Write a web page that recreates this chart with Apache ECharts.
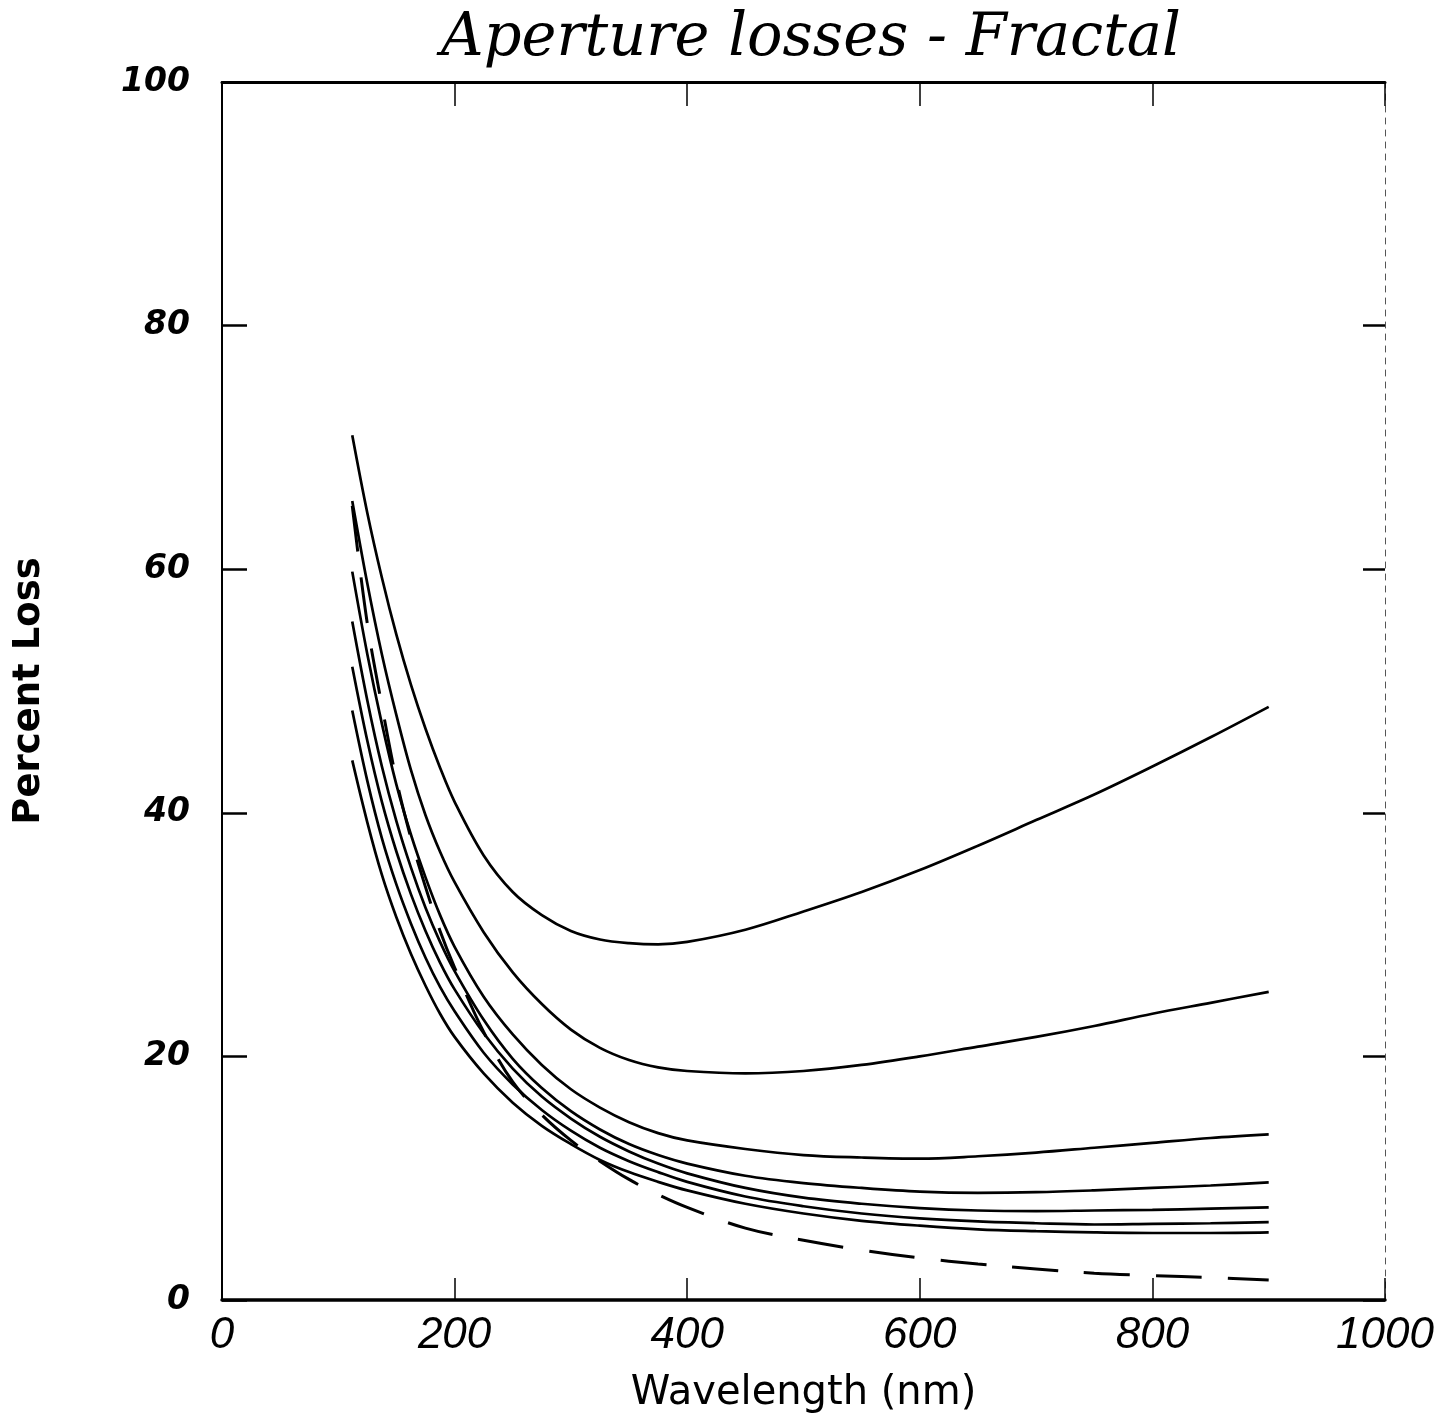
<!DOCTYPE html>
<html>
<head>
<meta charset="utf-8">
<script src="https://cdn.jsdelivr.net/npm/echarts@6/dist/echarts.min.js"></script>
<style>
  html, body { margin: 0; padding: 0; background: #fff; }
  #chart { width: 1443px; height: 1415px; }
</style>
</head>
<body>
<div id="chart"></div>
<script>
// wavelength grid (nm) shared by all curves
const wavelengths = [112, 125, 137.5, 150, 162.5, 175, 187.5, 200, 225, 250, 275, 300, 325, 350, 375, 400, 450, 500, 550, 600, 650, 700, 750, 800, 850, 900];

// solid curves, top to bottom (percent loss)
const loss1 = [71.0, 64.6, 59.3, 54.6, 50.5, 46.9, 43.7, 40.9, 36.5, 33.5, 31.6, 30.3, 29.6, 29.3, 29.2, 29.4, 30.4, 31.9, 33.5, 35.3, 37.3, 39.4, 41.5, 43.8, 46.2, 48.7];
const loss2 = [65.6, 58.8, 53.0, 48.0, 43.5, 39.8, 36.8, 34.3, 30.2, 26.9, 24.3, 22.2, 20.7, 19.7, 19.1, 18.8, 18.6, 18.8, 19.3, 20.0, 20.8, 21.6, 22.5, 23.5, 24.4, 25.3];
const loss3 = [59.8, 53.0, 47.3, 42.3, 38.2, 34.7, 31.6, 29.0, 24.9, 21.8, 19.3, 17.3, 15.8, 14.6, 13.7, 13.1, 12.4, 11.9, 11.7, 11.6, 11.8, 12.1, 12.5, 12.9, 13.3, 13.6];
const loss4 = [55.7, 49.2, 43.8, 39.3, 35.5, 32.2, 29.4, 27.0, 23.0, 19.8, 17.4, 15.5, 14.0, 12.8, 11.9, 11.2, 10.2, 9.6, 9.2, 8.9, 8.8, 8.85, 9.0, 9.2, 9.4, 9.65];
const loss5 = [52.0, 45.9, 40.9, 36.8, 33.3, 30.3, 27.7, 25.5, 21.9, 19.0, 16.7, 14.9, 13.4, 12.2, 11.2, 10.4, 9.2, 8.4, 7.9, 7.55, 7.35, 7.3, 7.35, 7.4, 7.5, 7.6];
const loss6 = [48.4, 42.6, 37.9, 34.1, 30.9, 28.1, 25.7, 23.7, 20.3, 17.7, 15.6, 13.9, 12.5, 11.4, 10.5, 9.7, 8.5, 7.7, 7.1, 6.7, 6.45, 6.3, 6.2, 6.25, 6.3, 6.4];
const loss7 = [44.3, 39.2, 34.9, 31.4, 28.4, 25.8, 23.5, 21.6, 18.6, 16.2, 14.3, 12.8, 11.5, 10.5, 9.7, 9.0, 7.9, 7.1, 6.5, 6.1, 5.8, 5.65, 5.55, 5.5, 5.5, 5.55];

// dashed curve
const lossDashed = [65.2, 55.5, 48.8, 42.7, 37.9, 33.9, 30.3, 27.3, 22.0, 17.9, 15.2, 13.1, 11.4, 9.9, 8.65, 7.6, 5.9, 4.9, 4.1, 3.45, 2.95, 2.55, 2.2, 2.0, 1.85, 1.64];

const xTicks = [0, 200, 400, 600, 800, 1000];
const yTicks = [0, 20, 40, 60, 80, 100];

const solidCurves = [loss1, loss2, loss3, loss4, loss5, loss6, loss7];

var chartDom = document.getElementById('chart');
var myChart = echarts.init(chartDom);

const toPairs = vals => wavelengths.map((w, i) => [w, vals[i]]);

const series = solidCurves.map((vals, k) => ({
  type: 'line',
  name: 'curve' + (k + 1),
  data: toPairs(vals),
  smooth: 0.35,
  showSymbol: false,
  lineStyle: { color: '#000', width: 2.7 },
  silent: true
}));

series.push({
  type: 'line',
  name: 'dashed',
  data: toPairs(lossDashed),
  smooth: 0.35,
  showSymbol: false,
  lineStyle: { color: '#000', width: 3, type: [46, 26] },
  silent: true
});

var option = {
  animation: false,
  backgroundColor: '#fff',
  title: {
    text: 'Aperture losses - Fractal',
    left: 806,
    top: 5,
    textAlign: 'center',
    textStyle: { fontFamily: 'DejaVu Serif', fontStyle: 'italic', fontWeight: 'normal', fontSize: 59, color: '#000' }
  },
  grid: { left: 222, right: 58, top: 82, bottom: 115, outerBoundsMode: 'none' },
  xAxis: [{
    type: 'value',
    min: 0, max: 1000, interval: 200,
    position: 'bottom',
    name: 'Wavelength (nm)',
    nameLocation: 'middle',
    nameGap: 74,
    nameTextStyle: { fontFamily: 'DejaVu Sans', fontSize: 40, color: '#000' },
    axisLine: { onZero: false, lineStyle: { color: '#000', width: 3.5 } },
    axisTick: { inside: true, length: 22, lineStyle: { color: '#000', width: 1.5 } },
    axisLabel: {
      fontFamily: 'Liberation Sans', fontStyle: 'italic', fontSize: 44, color: '#000', margin: 14,
      formatter: v => xTicks.includes(v) ? String(v) : ''
    },
    splitLine: { show: false }
  }, {
    type: 'value',
    min: 0, max: 1000, interval: 200,
    position: 'top',
    axisLine: { onZero: false, lineStyle: { color: '#000', width: 3 } },
    axisTick: { inside: true, length: 24, lineStyle: { color: '#000', width: 1.5 } },
    axisLabel: { show: false },
    splitLine: { show: false }
  }],
  yAxis: [{
    type: 'value',
    min: 0, max: 100, interval: 20,
    position: 'left',
    name: 'Percent Loss',
    nameLocation: 'middle',
    nameGap: 174,
    nameRotate: 90,
    nameTextStyle: { fontFamily: 'DejaVu Sans', fontWeight: 'bold', fontSize: 37, color: '#000' },
    axisLine: { onZero: false, lineStyle: { color: '#000', width: 2 } },
    axisTick: { inside: true, length: 25, lineStyle: { color: '#000', width: 2.5 } },
    axisLabel: {
      fontFamily: 'DejaVu Sans', fontStyle: 'italic', fontWeight: 'bold', fontSize: 33, color: '#000', margin: 32,
      formatter: v => yTicks.includes(v) ? String(v) : ''
    },
    splitLine: { show: false }
  }, {
    type: 'value',
    min: 0, max: 100, interval: 20,
    position: 'right',
    axisLine: { onZero: false, lineStyle: { color: '#555', width: 1, type: [6, 6] } },
    axisTick: { inside: true, length: 22, lineStyle: { color: '#000', width: 2.5 } },
    axisLabel: { show: false },
    splitLine: { show: false }
  }],
  series: series
};

option && myChart.setOption(option);
</script>
</body>
</html>
